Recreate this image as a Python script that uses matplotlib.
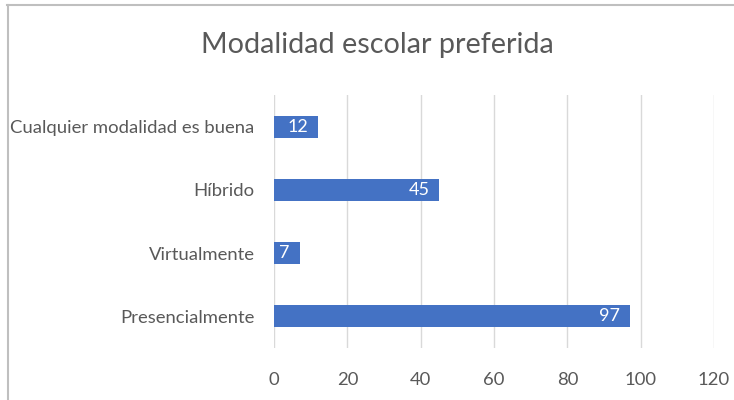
import matplotlib.pyplot as plt
from matplotlib.lines import Line2D

categorias = ["Presencialmente", "Virtualmente", "Híbrido", "Cualquier modalidad es buena"]
valores = [97, 7, 45, 12]
ticks_x = [0, 20, 40, 60, 80, 100, 120]

plt.rcParams["font.family"] = ["Lato", "DejaVu Sans"]

fig = plt.figure(figsize=(7.34, 4.0), dpi=100)
ax = fig.add_axes([274 / 734, 52 / 400, 440 / 734, 253 / 400])

barras = ax.barh(range(len(categorias)), valores, height=0.35, color="#4472C4", zorder=3)
for b, v in zip(barras, valores):
    ax.annotate(str(v), xy=(b.get_width(), b.get_y() + b.get_height() / 2),
                xytext=(-7, 0), textcoords="offset points",
                ha="right", va="center", color="white", fontsize=13)

ax.set_xlim(0, 120)
ax.set_ylim(-0.5, len(categorias) - 0.5)
ax.set_xticks(ticks_x)
ax.set_yticks(range(len(categorias)))
ax.set_yticklabels(categorias)
ax.tick_params(axis="both", length=0, colors="#595959", labelsize=13.3)
ax.tick_params(axis="x", pad=17)
ax.tick_params(axis="y", pad=14)
ax.grid(axis="x", color="#D9D9D9", linewidth=1, zorder=0)
for s in ax.spines.values():
    s.set_visible(False)

fig.text(377 / 734, 1 - 45 / 400, "Modalidad escolar preferida", ha="center", va="center",
         fontsize=20.7, color="#595959")

# marco del gráfico
fig.add_artist(Line2D([7 / 734, 1], [1 - 4.5 / 400] * 2, color="#BFBFBF", linewidth=1.5,
                      transform=fig.transFigure))
fig.add_artist(Line2D([7.5 / 734] * 2, [0, 1 - 4.5 / 400], color="#BFBFBF", linewidth=1.5,
                      transform=fig.transFigure))

fig.savefig("out.png", dpi=100)
